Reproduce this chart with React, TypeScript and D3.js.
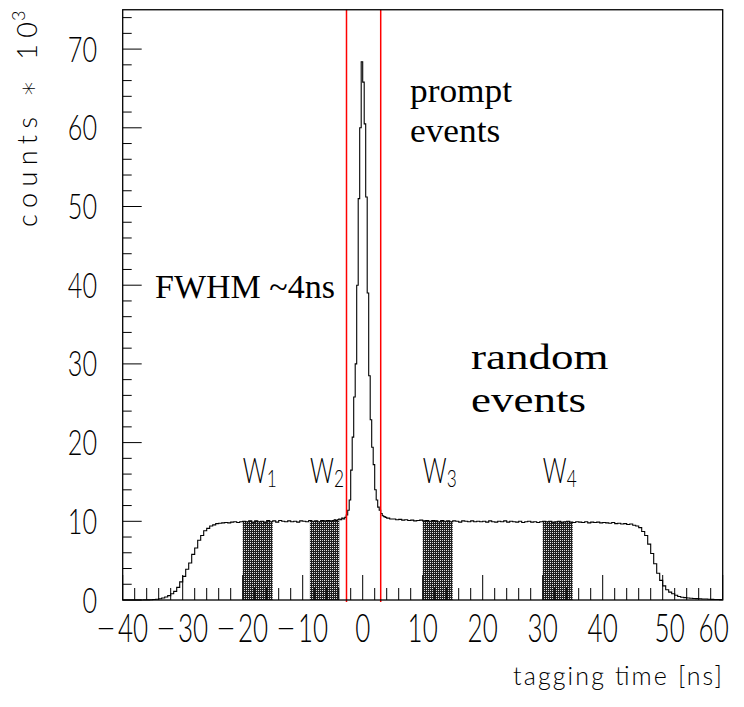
import React from "react";
import * as d3 from "d3";

const W = 744;
const H = 707;

// tagging time histogram, values in units of 10^3 counts
// 0.5 ns bins from -40 ns to -5 ns
const leftStart = -40;
const leftCounts = [
  0, 0, 0, 0, 0, 0, 0, 0.01, 0.02, 0.03,
  0.06, 0.1, 0.16, 0.25, 0.38, 0.55, 0.8, 1.1, 1.6, 2.3,
  3.0, 3.9, 4.7, 5.8, 6.6, 7.6, 8.2, 8.8, 9.1, 9.4,
  9.55, 9.7, 9.75, 9.8, 9.85, 9.8, 9.9, 9.95, 9.85, 9.95,
  10.0, 9.95, 10.05, 9.9, 10.05, 9.95, 10.0, 9.9, 10.1, 9.95,
  10.05, 9.9, 10.1, 10.0, 9.95, 10.05, 9.95, 10.0, 9.9, 10.05,
  10.0, 9.95, 10.1, 10.0, 10.05, 9.95, 10.1, 10.05, 10.1, 10.05,
];
// 0.25 ns bins from -5 ns to 5 ns (prompt peak)
const peakStart = -5;
const peakCounts = [
  10.1, 10.2, 10.1, 10.2, 10.3, 10.2, 10.4, 10.3, 10.5, 10.8,
  11.4, 12.7, 16.5, 20.7, 25.8, 30.0, 40.0, 51.0, 60.0, 68.4,
  65.8, 60.5, 51.2, 39.0, 28.5, 22.9, 19.4, 17.2, 14.0, 12.7,
  11.8, 11.4, 11.0, 10.7, 10.6, 10.5, 10.4, 10.4, 10.3, 10.3,
];
// 0.5 ns bins from 5 ns to 60 ns
const rightStart = 5;
const rightCounts = [
  10.3, 10.2, 10.25, 10.15, 10.2, 10.1, 10.15, 10.05, 10.1, 10.15,
  10.05, 10.1, 10.0, 10.1, 10.05, 9.95, 10.1, 10.0, 10.05, 9.95,
  10.05, 10.0, 9.9, 10.05, 10.0, 9.95, 10.05, 9.95, 10.0, 9.95,
  10.0, 9.9, 10.05, 9.95, 9.9, 10.0, 9.95, 10.05, 9.9, 10.0,
  9.95, 9.9, 10.0, 9.85, 9.95, 10.0, 9.9, 9.95, 9.85, 9.95,
  10.0, 9.95, 10.0, 9.9, 9.95, 10.0, 9.9, 9.95, 10.0, 9.9,
  9.85, 9.95, 9.9, 9.85, 9.95, 9.8, 9.9, 9.85, 9.9, 9.8,
  9.85, 9.8, 9.75, 9.85, 9.7, 9.75, 9.65, 9.7, 9.6, 9.65,
  9.5, 9.4, 9.2, 8.7, 8.2, 7.1, 5.9, 4.6, 3.4, 2.5,
  1.8, 1.3, 1.0, 0.8, 0.6, 0.45, 0.35, 0.3, 0.25, 0.22,
  0.2, 0.18, 0.15, 0.13, 0.12, 0.1, 0.08, 0.07, 0.06, 0.05,
];

// random-coincidence windows (ns)
const windowNames = ["1", "2", "3", "4"];
const windowFrom = [-20, -8.8, 10, 30];
const windowTo = [-15, -3.9, 15, 35];

// prompt cut (ns)
const promptCuts = [-2.7, 3.0];

const xTicks = [-40, -30, -20, -10, 0, 10, 20, 30, 40, 50, 60];
const yTicks = [0, 10, 20, 30, 40, 50, 60, 70];

type Bin = { x0: number; x1: number; v: number };

function makeBins(): Bin[] {
  const bins: Bin[] = [];
  leftCounts.forEach((v, i) => bins.push({ x0: leftStart + i * 0.5, x1: leftStart + (i + 1) * 0.5, v }));
  peakCounts.forEach((v, i) => bins.push({ x0: peakStart + i * 0.25, x1: peakStart + (i + 1) * 0.25, v }));
  rightCounts.forEach((v, i) => bins.push({ x0: rightStart + i * 0.5, x1: rightStart + (i + 1) * 0.5, v }));
  return bins;
}

const thin = { fontFamily: "Lato, 'DejaVu Sans', sans-serif", fontWeight: 300 } as const;
const serif = "'Liberation Serif', 'Times New Roman', serif";

// ROOT places the last two labels a bit off their ticks
const labelShift: Record<number, number> = { 50: 7, 60: -9 };

export default function App() {
  const bins = makeBins();
  const x = d3.scaleLinear().domain([-40, 60]).range([122.7, 722.7]);
  const y = d3.scaleLinear().domain([0, 75]).range([600, 9.75]);

  const pts: [number, number][] = bins.map((b) => [b.x0, b.v]);
  pts.push([bins[bins.length - 1].x1, bins[bins.length - 1].v]);

  const line = d3
    .line<[number, number]>()
    .x((d) => x(d[0]))
    .y((d) => y(d[1]))
    .curve(d3.curveStepAfter);
  const area = d3
    .area<[number, number]>()
    .x((d) => x(d[0]))
    .y0(y(0))
    .y1((d) => y(d[1]))
    .curve(d3.curveStepAfter);

  const xMinor = d3.range(-40, 60.01, 2);
  const yMinor = d3.range(0, 75, 2);
  const [x0, x1] = x.range();
  const [y0, y1] = y.range();

  return (
    <svg width={W} height={H} style={{ position: "absolute", left: 0, top: 0, background: "#fff" }}>
      <defs>
        <pattern id="hatch" width={4} height={4} patternUnits="userSpaceOnUse">
          <rect width={4} height={4} fill="#1e1e1e" />
          <rect x={0} y={0} width={1} height={1} fill="#eee" />
          <rect x={2} y={2} width={1} height={1} fill="#eee" />
          <rect x={2} y={0} width={1} height={1} fill="#ccc" />
          <rect x={0} y={2} width={1} height={1} fill="#ccc" />
        </pattern>
        <clipPath id="wins">
          {windowFrom.map((f, i) => (
            <rect key={i} x={x(f)} y={y1} width={x(windowTo[i]) - x(f)} height={y0 - y1} />
          ))}
        </clipPath>
      </defs>

      {/* shaded windows */}
      <path d={area(pts) ?? ""} fill="url(#hatch)" clipPath="url(#wins)" />

      {/* histogram outline */}
      <path d={line(pts) ?? ""} fill="none" stroke="#000" strokeWidth={1.1} />

      {/* ticks */}
      <g stroke="#000" strokeWidth={1}>
        {xMinor.map((t) => {
          const major = t % 10 === 0;
          return <line key={"xm" + t} x1={x(t)} x2={x(t)} y1={y0} y2={y0 - (major ? 25 : 12)} />;
        })}
        {yMinor.map((t) => {
          const major = t % 10 === 0;
          return <line key={"ym" + t} x1={x0} x2={x0 + (major ? 19 : 9)} y1={y(t)} y2={y(t)} />;
        })}
      </g>

      {/* prompt cut */}
      {promptCuts.map((c) => (
        <line key={c} x1={x(c)} x2={x(c)} y1={y1} y2={y0 + 2} stroke="#ff0000" strokeWidth={1.5} />
      ))}

      {/* frame */}
      <rect x={x0} y={y1} width={x1 - x0} height={y0 - y1} fill="none" stroke="#000" strokeWidth={1.3} />

      {/* x tick labels */}
      {xTicks.map((t) => (
        <text
          key={"xl" + t}
          {...thin}
          fontSize={40}
          textAnchor="middle"
          transform={`translate(${x(t) + (labelShift[t] ?? 0)},642) scale(0.65,1)`}
        >
          {t < 0 ? (
            <>
              <tspan fontSize={34} dy={-4}>{"\u2014"}</tspan>
              <tspan dy={4}>{"\u2009" + Math.abs(t)}</tspan>
            </>
          ) : (
            String(t)
          )}
        </text>
      ))}

      {/* y tick labels */}
      {yTicks.map((t) => (
        <text key={"yl" + t} {...thin} fontSize={35} textAnchor="end" transform={`translate(97,${y(t) + 12.5}) scale(0.72,1)`}>
          {t}
        </text>
      ))}

      {/* axis titles */}
      <text {...thin} fontSize={25} textAnchor="end" x={722} y={685} textLength={209} lengthAdjust="spacing">
        tagging time [ns]
      </text>
      <text {...thin} fontSize={27} transform="translate(37,227) rotate(-90)" textLength={205} lengthAdjust="spacing">
        counts {"\u2217"} 10
      </text>
      <text {...thin} fontSize={18} transform="translate(25,21) rotate(-90)">
        3
      </text>

      {/* window labels */}
      {windowNames.map((n, i) => (
        <g key={"w" + n} transform={`translate(${x(windowFrom[i])},0)`}>
          <text {...thin} fontSize={35} transform="translate(0,483) scale(0.67,1)">
            W
          </text>
          <text {...thin} fontSize={24} transform="translate(24,487) scale(0.72,1)">
            {n}
          </text>
        </g>
      ))}

      {/* annotations */}
      <g fontFamily={serif} fill="#000">
        <g fontSize={34} transform="translate(410,0) scale(1.04,1)">
          <text x={0} y={102}>prompt</text>
          <text x={0} y={142}>events</text>
        </g>
        <text fontSize={34} x={155} y={298}>FWHM ~4ns</text>
        <g fontSize={36} transform="translate(471,0) scale(1.25,1)">
          <text x={0} y={369}>random</text>
          <text x={0} y={412}>events</text>
        </g>
      </g>
    </svg>
  );
}
